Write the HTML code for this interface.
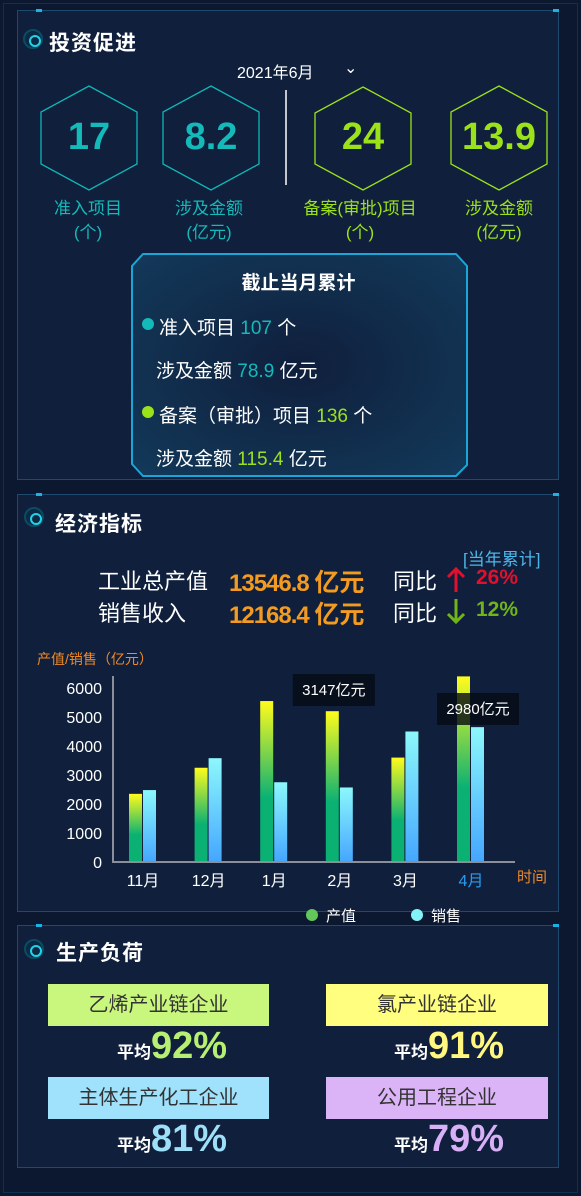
<!DOCTYPE html>
<html><head><meta charset="utf-8">
<style>
*{margin:0;padding:0;box-sizing:border-box}
body{width:581px;height:1196px;background:#0c1830;font-family:"Liberation Sans","Noto Sans CJK SC",sans-serif;position:relative;overflow:hidden;color:#fff}
.abs{position:absolute}
.panel{position:absolute;left:17px;width:542px;border:1px solid #1d4a6e;background:#0f1f3c}
.panel::before,.panel::after{content:"";position:absolute;top:-2px;width:6px;height:3px;background:#19b4e6}
.panel::before{left:18px}.panel::after{right:-1px}
.ttl{position:absolute;font-size:21px;font-weight:bold;color:#fff;letter-spacing:1px}
.dot{position:absolute;width:20px;height:20px;border-radius:50%;border:2px solid #0c4c63;background:#0d2a44}
.dot::after{content:"";position:absolute;left:4px;top:4px;width:8px;height:8px;border-radius:50%;border:2px solid #22d3e8}
.num{position:absolute;font-weight:bold;font-size:38px;text-align:center;width:120px}
.lbl{position:absolute;font-size:17px;text-align:center;width:140px;line-height:24px;white-space:nowrap}
.card{position:absolute;width:221px;height:42px;font-size:20px;color:#333;text-align:center;line-height:42px}
.avg{position:absolute;font-weight:bold;font-size:17px;color:#fff}
.avg b{font-size:38px}
.row{position:absolute;font-size:22px;white-space:nowrap}
.big{position:absolute;color:#f39b21;font-weight:bold;font-size:24px;letter-spacing:-1px;white-space:nowrap}
.pct{position:absolute;font-size:21px;font-weight:bold}
</style></head><body>
<div class="abs" style="left:3px;top:3px;width:575px;height:1190px;border:1px solid #10304f"></div>

<!-- Panel 1 -->
<div class="panel" style="top:10px;height:470px"></div>
<div class="dot" style="left:23px;top:29px"></div>
<div class="ttl" style="left:49px;top:27px">投资促进</div>
<div class="abs" style="left:237px;top:59px;font-size:16px">2021年6月</div>
<div class="abs" style="left:344px;top:58px;font-size:16px">&#8964;</div>
<svg class="abs" style="left:0;top:0" width="581" height="200">
<g fill="none" stroke-width="1.3">
<polygon points="89,86 137,112 137,164 89,190 41,164 41,112" stroke="#11b6b6"/>
<polygon points="211,86 259,112 259,164 211,190 163,164 163,112" stroke="#11b6b6"/>
<polygon points="363,87 411,113 411,164 363,190 315,164 315,113" stroke="#9be21a"/>
<polygon points="499,86 547,112 547,164 499,190 451,164 451,112" stroke="#9be21a"/>
</g>
<line x1="286" y1="90" x2="286" y2="185" stroke="#fff" stroke-width="1.5"/>
</svg>
<div class="num" style="left:29px;top:116px;color:#14b9b9">17</div>
<div class="num" style="left:151px;top:116px;color:#14b9b9">8.2</div>
<div class="num" style="left:303px;top:116px;color:#9be21a">24</div>
<div class="num" style="left:439px;top:116px;color:#9be21a">13.9</div>
<div class="lbl" style="left:18px;top:197px;color:#14b9b9">准入项目<br>(个)</div>
<div class="lbl" style="left:139px;top:197px;color:#14b9b9">涉及金额<br>(亿元)</div>
<div class="lbl" style="left:290px;top:197px;color:#9be21a">备案(审批)项目<br>(个)</div>
<div class="lbl" style="left:429px;top:197px;color:#9be21a">涉及金额<br>(亿元)</div>

<svg class="abs" style="left:131px;top:253px" width="337" height="224">
<defs><radialGradient id="bg" cx="50%" cy="50%" r="70%"><stop offset="0" stop-color="#0f1f3c"/><stop offset="1" stop-color="#13395a"/></radialGradient></defs>
<polygon points="12,1 325,1 336,13 336,212 325,223 12,223 1,211 1,13" fill="url(#bg)" stroke="#1aa6d6" stroke-width="2"/>
</svg>
<div class="abs" style="left:130px;width:337px;text-align:center;top:268px;font-size:19px;font-weight:bold">截止当月累计</div>
<div class="abs" style="left:142px;top:318px;width:12px;height:12px;border-radius:50%;background:#14b9b9"></div>
<div class="abs" style="left:159px;top:313px;font-size:19px">准入项目 <span style="color:#14b9b9">107</span> 个</div>
<div class="abs" style="left:156px;top:356px;font-size:19px">涉及金额 <span style="color:#14b9b9">78.9</span> 亿元</div>
<div class="abs" style="left:142px;top:406px;width:12px;height:12px;border-radius:50%;background:#9be21a"></div>
<div class="abs" style="left:159px;top:401px;font-size:19px">备案（审批）项目 <span style="color:#9be21a">136</span> 个</div>
<div class="abs" style="left:156px;top:444px;font-size:19px">涉及金额 <span style="color:#9be21a">115.4</span> 亿元</div>

<!-- Panel 2 -->
<div class="panel" style="top:494px;height:418px"></div>
<div class="dot" style="left:24px;top:507px"></div>
<div class="ttl" style="left:55px;top:508px">经济指标</div>
<div class="abs" style="left:463px;top:545px;font-size:17px;color:#4fb7e8">[当年累计]</div>
<div class="row" style="left:98px;top:564px">工业总产值</div>
<div class="big" style="left:229px;top:563px">13546.8 <span style="font-size:25px;letter-spacing:0">亿元</span></div>
<div class="row" style="left:393px;top:564px">同比</div>
<svg class="abs" style="left:446px;top:567px" width="20" height="26"><path d="M10 2V25M2 10L10 2L18 10" stroke="#e0112c" stroke-width="3" fill="none"/></svg>
<div class="pct" style="left:476px;top:566px;color:#e0112c">26%</div>
<div class="row" style="left:98px;top:596px">销售收入</div>
<div class="big" style="left:229px;top:595px">12168.4 <span style="font-size:25px;letter-spacing:0">亿元</span></div>
<div class="row" style="left:393px;top:596px">同比</div>
<svg class="abs" style="left:446px;top:598px" width="20" height="26"><path d="M10 1V24M2 16L10 24L18 16" stroke="#6fb51a" stroke-width="3" fill="none"/></svg>
<div class="pct" style="left:476px;top:598px;color:#6fb51a">12%</div>

<svg class="abs" id="chart" style="left:0;top:640px" width="581" height="290">
<defs>
<linearGradient id="gp" x1="0" y1="0" x2="0" y2="1"><stop offset="0" stop-color="#fffc1c"/><stop offset="0.6" stop-color="#0bb173"/><stop offset="1" stop-color="#0bb173"/></linearGradient>
<linearGradient id="gs" x1="0" y1="0" x2="0" y2="1"><stop offset="0" stop-color="#8cf8fb"/><stop offset="1" stop-color="#45a6ff"/></linearGradient>
</defs>
</svg>

<!-- Panel 3 -->
<div class="panel" style="top:925px;height:243px"></div>
<div class="dot" style="left:24px;top:939px"></div>
<div class="ttl" style="left:56px;top:937px">生产负荷</div>
<div class="card" style="left:48px;top:984px;background:#c9f77e">乙烯产业链企业</div>
<div class="card" style="left:326px;top:984px;width:222px;background:#fffe7e">氯产业链企业</div>
<div class="card" style="left:48px;top:1077px;background:#a0e2fb">主体生产化工企业</div>
<div class="card" style="left:326px;top:1077px;width:222px;background:#dbb3f7">公用工程企业</div>
<div class="avg" style="left:117px;top:1025px">平均<b style="color:#b7ef72">92%</b></div>
<div class="avg" style="left:394px;top:1025px">平均<b style="color:#fff780">91%</b></div>
<div class="avg" style="left:117px;top:1118px">平均<b style="color:#9edff8">81%</b></div>
<div class="avg" style="left:394px;top:1118px">平均<b style="color:#d8b0f5">79%</b></div>

<script>
const categories=["11月","12月","1月","2月","3月","4月"];
const production=[2350,3250,5550,5200,3600,6400];
const sales=[2480,3580,2750,2570,4500,4650];
const yTicks=[0,1000,2000,3000,4000,5000,6000];
const tooltipCats=[3,5];
const tooltipTexts=["3147亿元","2980亿元"];
(function(){
const svg=document.getElementById('chart');const NS='http://www.w3.org/2000/svg';
const x0=113,x1=515,y0=222,pxPer=29/1000;
const band=65.6;
const cx=i=>x0+29+band*i;
const y=v=>y0-v*pxPer;
function el(t,a,txt){const e=document.createElementNS(NS,t);for(const k in a)e.setAttribute(k,a[k]);if(txt!=null)e.textContent=txt;svg.appendChild(e);return e;}
let t=el('text',{x:37,y:24,fill:'#f08a25','font-size':14},'产值/销售（亿元）');


yTicks.forEach(v=>{const e=el('text',{x:102,y:y(v)+6,fill:'#fff','font-size':16,'text-anchor':'end'},v);

});
categories.forEach((c,i)=>{
const p=el('rect',{x:cx(i)-13,y:y(production[i]),width:13,height:production[i]*pxPer,fill:'url(#gp)'});


const s=el('rect',{x:cx(i)+1,y:y(sales[i]),width:13,height:sales[i]*pxPer,fill:'url(#gs)'});


const l=el('text',{x:cx(i)+1,y:y0+24,fill:i==categories.length-1?'#2a9cf0':'#fff','font-size':16,'text-anchor':'middle'},c);


});
const ax=el('path',{d:`M${x0} 36V${y0}H${x1}`,stroke:'#8a8f99','stroke-width':2,fill:'none'});


const xt=el('text',{x:517,y:y0+20,fill:'#f08a25','font-size':15},'时间');


tooltipCats.forEach((i,k)=>{const bx=cx(i)-42+(k?9:-4),by=k?53:34;
const r=el('rect',{x:bx,y:by,width:82,height:32,fill:'rgba(5,10,20,0.8)'});


const tx=el('text',{x:bx+41,y:by+21,fill:'#fff','font-size':15,'text-anchor':'middle'},tooltipTexts[k]);

});
const lg1=el('circle',{cx:312,cy:275,r:6,fill:'#62c65a'});


const lt1=el('text',{x:326,y:281,fill:'#fff','font-size':15},'产值');


const lg2=el('circle',{cx:417,cy:275,r:6,fill:'#82f3f7'});


const lt2=el('text',{x:431,y:281,fill:'#fff','font-size':15},'销售');


})();
</script>
</body></html>
